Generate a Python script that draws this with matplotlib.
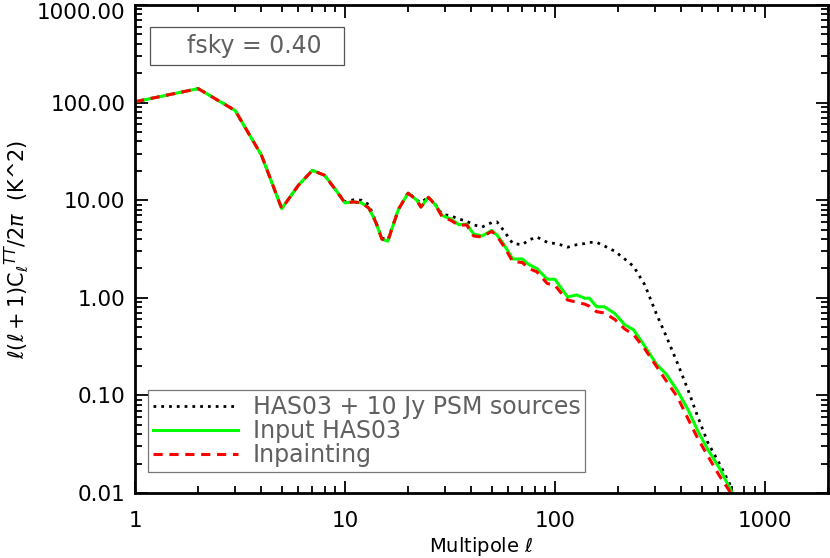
import numpy as np
import matplotlib
matplotlib.use("Agg")
import matplotlib.pyplot as plt
import matplotlib.transforms as mtransforms
from matplotlib.patches import Rectangle
from matplotlib.ticker import FixedLocator, LogLocator, NullFormatter, FormatStrFormatter

# multipoles
ell = [1, 2, 3, 4, 5, 6, 7, 8, 9, 10, 11, 12, 13, 14, 15, 16, 18, 20, 22, 23,
       25, 27, 29, 32, 35, 38, 41, 45, 50, 53, 57, 63, 70, 75, 82, 92, 100, 106,
       115, 127, 139, 146, 158, 172, 193, 215, 237, 268, 304, 340, 385, 430, 480,
       535, 608, 700]

# input HAS03 spectrum
cl_input = [102, 139, 83, 29, 8.2, 14.2, 20.2, 18, 12.9, 9.4, 9.6, 9.4, 8.3, 6.0,
            4.0, 3.8, 8.1, 11.8, 10.0, 8.5, 10.7, 8.9, 7.0, 6.4, 5.6, 5.7, 4.5,
            4.3, 4.9, 4.4, 3.55, 2.5, 2.5, 2.2, 2.0, 1.55, 1.55, 1.3, 1.02, 1.07,
            0.99, 0.99, 0.81, 0.81, 0.69, 0.53, 0.47, 0.32, 0.21, 0.164, 0.11,
            0.072, 0.043, 0.028, 0.018, 0.01]

# inpainted map spectrum
cl_inpaint = [102, 139, 83, 29, 8.2, 14.2, 20.2, 18, 12.9, 9.4, 9.6, 9.4, 8.3, 6.0,
              4.0, 3.8, 8.1, 11.8, 10.0, 8.5, 10.7, 8.9, 6.8, 6.2, 5.5, 5.6, 4.3,
              4.2, 4.8, 4.3, 3.4, 2.35, 2.3, 2.0, 1.85, 1.4, 1.35, 1.15, 0.95, 0.9,
              0.86, 0.82, 0.72, 0.70, 0.60, 0.48, 0.42, 0.30, 0.20, 0.14, 0.095,
              0.058, 0.036, 0.024, 0.015, 0.0095]

# with point sources
cl_psm = [102, 139, 83, 29, 8.2, 14.2, 20.2, 18, 12.9, 9.6, 10.1, 10.0, 9.0, 6.1,
          4.1, 3.9, 8.1, 12.0, 10.0, 9.5, 10.7, 9.0, 7.2, 6.9, 6.4, 6.1, 5.6,
          5.3, 5.9, 6.0, 4.9, 3.6, 3.5, 3.9, 4.2, 3.7, 3.6, 3.5, 3.3, 3.5, 3.6,
          3.7, 3.7, 3.4, 3.0, 2.5, 2.1, 1.36, 0.69, 0.40, 0.21, 0.115, 0.06,
          0.033, 0.02, 0.011]

fig = plt.figure(figsize=(8.3, 5.58), dpi=100)
ax = fig.add_axes([135 / 830, 1 - 493 / 558, (828 - 135) / 830, (493 - 5) / 558])

ax.plot(ell, cl_psm, color="black", linestyle=(0, (1, 1.8)), linewidth=2.0,
        label="HAS03 + 10 Jy PSM sources")
ax.plot(ell, cl_input, color="#00ff00", linestyle="-", linewidth=2.2,
        label="Input HAS03")
ax.plot(ell, cl_inpaint, color="red", linestyle=(0, (3, 2.2)), linewidth=2.2,
        label="Inpainting")

ax.set_xscale("log")
ax.set_yscale("log")
ax.set_xlim(1, 2000)
ax.set_ylim(0.01, 1000)

ax.xaxis.set_major_locator(FixedLocator([1, 10, 100, 1000]))
ax.xaxis.set_major_formatter(FormatStrFormatter("%d"))
ax.xaxis.set_minor_locator(LogLocator(base=10, subs=np.arange(2, 10), numticks=20))
ax.xaxis.set_minor_formatter(NullFormatter())
ax.yaxis.set_major_locator(FixedLocator([0.01, 0.1, 1, 10, 100, 1000]))
ax.yaxis.set_major_formatter(FormatStrFormatter("%.2f"))
ax.yaxis.set_minor_locator(LogLocator(base=10, subs=np.arange(2, 10), numticks=20))
ax.yaxis.set_minor_formatter(NullFormatter())

ax.tick_params(which="both", direction="in", top=True, right=True, width=1.3,
               labelsize=15.5, colors="black")
ax.tick_params(which="major", length=9, pad=7)
ax.tick_params(which="minor", length=5)
ax.tick_params(axis="x", pad=13)
for s in ax.spines.values():
    s.set_linewidth(2)

ax.set_xlabel(r"Multipole $\ell$", fontsize=14, labelpad=3)
ax.set_ylabel(r"$\ell(\ell+1)$C$_\ell$$^{TT}$/2$\pi$  (K^2)", fontsize=15, labelpad=4)

# fsky box
ax.add_patch(Rectangle((0.0216, 0.877), 0.28, 0.078, transform=ax.transAxes,
                       facecolor="white", edgecolor="#555555", linewidth=0.9,
                       zorder=5))
ax.text(0.172, 0.916, "fsky = 0.40", transform=ax.transAxes, fontsize=17,
        color="#606060", va="center", ha="center", zorder=6)

leg = ax.legend(loc="lower left", bbox_to_anchor=(0.019, 0.043), fontsize=17,
                frameon=True, fancybox=False, handlelength=3.6, borderpad=0.22,
                labelspacing=0.0, handletextpad=0.6, borderaxespad=0)
leg.get_frame().set_edgecolor("#555555")
leg.get_frame().set_linewidth(0.9)
for t in leg.get_texts():
    t.set_color("#606060")

# top label sits a little lower, as in the reference
fig.canvas.draw()
shift = mtransforms.ScaledTranslation(0, -6 / 100, fig.dpi_scale_trans)
for lab in ax.yaxis.get_majorticklabels():
    if lab.get_text().startswith("1000"):
        lab.set_transform(lab.get_transform() + shift)

fig.savefig("out.png", dpi=100)
